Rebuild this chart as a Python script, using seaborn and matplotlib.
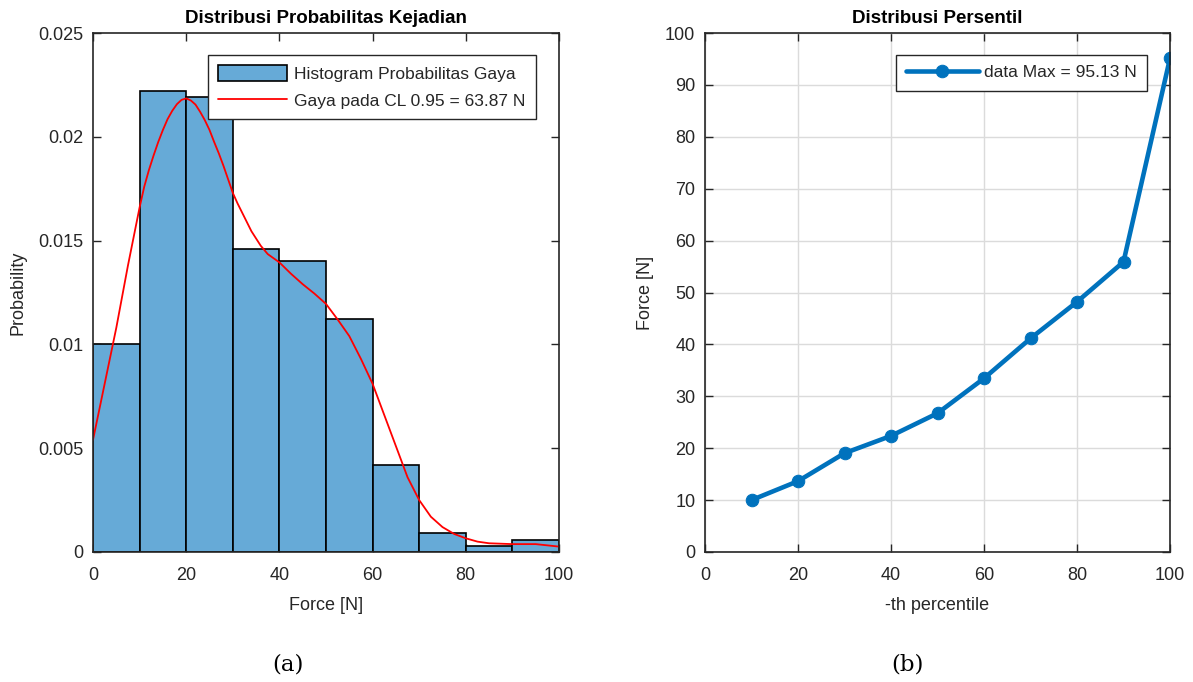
import numpy as np
import pandas as pd
import matplotlib
matplotlib.use("Agg")
import matplotlib.pyplot as plt
import seaborn as sns
from matplotlib.patches import Patch
from matplotlib.lines import Line2D

# ---- data ----
bin_edges = [0, 10, 20, 30, 40, 50, 60, 70, 80, 90, 100]
bin_prob = [0.0100, 0.0222, 0.0219, 0.0146, 0.0140, 0.0112, 0.0042, 0.0009, 0.0003, 0.0006]

curve_x = [0, 2.5, 5, 7.5, 10, 11, 12, 13, 14, 15, 16, 17, 18, 19, 20, 21, 22, 23, 24,
           25, 26, 27, 28, 29, 30, 31, 32, 33, 34, 35, 36, 37.5, 40, 42.5, 45, 47.5,
           50, 52.5, 55, 57.5, 60, 62.5, 65, 67.5, 70, 72.5, 75, 77.5, 80, 82.5, 85,
           90, 95, 100]
curve_y_milli = [5.4, 8.1, 10.8, 13.8, 16.6, 17.6, 18.4, 19.1, 19.75, 20.33, 20.85,
                 21.25, 21.57, 21.78, 21.85, 21.75, 21.55, 21.2, 20.8, 20.33, 19.75,
                 19.2, 18.6, 17.95, 17.3, 16.8, 16.35, 15.9, 15.45, 15.1, 14.75, 14.35,
                 13.95, 13.4, 12.9, 12.45, 11.95, 11.2, 10.4, 9.3, 8.1, 6.6, 5.1, 3.6,
                 2.5, 1.7, 1.2, 0.87, 0.66, 0.5, 0.42, 0.38, 0.38, 0.26]

pct = [10, 20, 30, 40, 50, 60, 70, 80, 90, 100]
force = [10.0, 13.65, 19.04, 22.37, 26.73, 33.46, 41.15, 48.2, 55.9, 95.13]

hist_label = "Histogram Probabilitas Gaya"
curve_label = "Gaya pada CL 0.95 = 63.87 N"
line_label = "data Max = 95.13 N"

# ---- style ----
sns.set_style("white")
plt.rcParams["font.family"] = ["Liberation Sans", "DejaVu Sans"]
plt.rcParams["font.size"] = 12
dark = "#262626"
TICK_FS = 13
LABEL_FS = 13
LEG_FS = 12.5
TITLE_FS = 13.5

fig = plt.figure(figsize=(11.93, 6.82), dpi=100)
axL = fig.add_axes([93/1193, 130/682, 466/1193, 519/682])
axR = fig.add_axes([705/1193, 130/682, 465/1193, 519/682])

bar_color = "#66AAD7"
centers = [(bin_edges[i] + bin_edges[i+1]) / 2 for i in range(len(bin_prob))]
dfh = pd.DataFrame({"x": centers, "w": bin_prob})
sns.histplot(data=dfh, x="x", weights="w", bins=bin_edges, stat="count",
             color=bar_color, alpha=1, edgecolor="black", linewidth=1.2, ax=axL)
dfc = pd.DataFrame({"x": curve_x, "y": [v / 1000 for v in curve_y_milli]})
sns.lineplot(data=dfc, x="x", y="y", color="red", linewidth=1.3, ax=axL)

axL.set_xlim(0, 100)
axL.set_ylim(0, 0.025)
axL.set_xticks([0, 20, 40, 60, 80, 100])
axL.set_yticks([0, 0.005, 0.01, 0.015, 0.02, 0.025])
axL.set_yticklabels(["0", "0.005", "0.01", "0.015", "0.02", "0.025"])
axL.set_xlabel("Force [N]", color=dark, fontsize=LABEL_FS, labelpad=9)
axL.set_ylabel("Probability", color=dark, fontsize=LABEL_FS, labelpad=8)
axL.set_title("Distribusi Probabilitas Kejadian", fontweight="bold",
              fontsize=TITLE_FS, color="black", pad=7)
handlesL = [Patch(facecolor=bar_color, edgecolor="black", linewidth=1.2),
            Line2D([0], [0], color="red", linewidth=1.3)]
legL = axL.legend(handlesL, [hist_label, curve_label], loc="upper right",
                  bbox_to_anchor=(0.951, 0.958), fancybox=False, framealpha=1,
                  edgecolor=dark, fontsize=LEG_FS, handlelength=4.0, handleheight=1.0,
                  borderpad=0.6, labelspacing=0.58, handletextpad=0.4,
                  borderaxespad=0)
legL.get_frame().set_linewidth(1.0)

dfr = pd.DataFrame({"p": pct, "f": force})
sns.lineplot(data=dfr, x="p", y="f", color="#0072BD", linewidth=3.3, marker="o",
             markersize=9, markeredgecolor="#0072BD", ax=axR, label=line_label)
axR.set_xlim(0, 100)
axR.set_ylim(0, 100)
axR.set_xticks(range(0, 101, 20))
axR.set_yticks(range(0, 101, 10))
axR.grid(True, color="#DBDBDB", linewidth=1.0)
axR.set_axisbelow(True)
axR.set_xlabel("-th percentile", color=dark, fontsize=LABEL_FS, labelpad=9)
axR.set_ylabel("Force [N]", color=dark, fontsize=LABEL_FS, labelpad=8)
axR.set_title("Distribusi Persentil", fontweight="bold", fontsize=TITLE_FS,
              color="black", pad=7)
legR = axR.legend(loc="upper right", bbox_to_anchor=(0.951, 0.958), fancybox=False,
                  framealpha=1, edgecolor=dark, fontsize=LEG_FS, handlelength=4.2,
                  borderpad=0.6, handletextpad=0.3, borderaxespad=0)
legR.get_frame().set_linewidth(1.0)

for ax in (axL, axR):
    for s in ax.spines.values():
        s.set_visible(True)
        s.set_color(dark)
        s.set_linewidth(1.2)
    ax.tick_params(direction="in", length=6, width=1.0, color=dark, labelcolor=dark,
                   labelsize=TICK_FS, top=True, right=True, bottom=True, left=True)
    ax.tick_params(axis="x", pad=11)
    ax.tick_params(axis="y", pad=7)

fig.text(288/1193, 1 - 665/682, "(a)", family=["DejaVu Serif"], fontsize=16.5,
         ha="center", va="center", color="black")
fig.text(907/1193, 1 - 665/682, "(b)", family=["DejaVu Serif"], fontsize=16.5,
         ha="center", va="center", color="black")

fig.savefig("out.png", dpi=100, facecolor="white")
